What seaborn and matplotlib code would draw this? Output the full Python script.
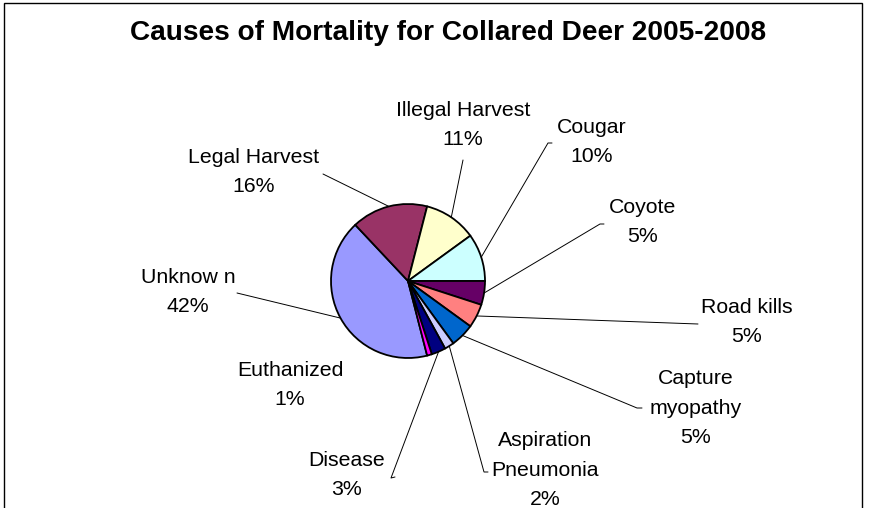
import numpy as np
import matplotlib
matplotlib.use("Agg")
import matplotlib.pyplot as plt
import seaborn as sns
from matplotlib.patches import Rectangle

# ========== data ==========
causes = ["Unknow n", "Legal Harvest", "Illegal Harvest", "Cougar", "Coyote",
          "Road kills", "Capture\nmyopathy", "Aspiration\nPneumonia",
          "Disease", "Euthanized"]
percent = [42, 16, 11, 10, 5, 5, 5, 2, 3, 1]
slice_colors = ["#9999FF", "#993366", "#FFFFCC", "#CCFFFF", "#660066",
                "#FF8080", "#0066CC", "#CCCCFF", "#000080", "#FF00FF"]

# ========== layout (pixels, from top-left) ==========
W, H = 869, 508
pie_center = (408, 281)
pie_radius = 77
label_xy = [(188, 292), (254, 172), (463, 125), (592, 142), (643, 222),
            (747, 322), (696, 408), (545, 470), (347, 475), (290, 385)]
# end of the leader line at the label, plus an optional short tick
anchor_xy = [(237, 293), (323, 174), (463, 160), (548, 143), (600, 224),
             (698, 324), (637, 408), (484, 472), (391, 478), None]
tick_xy = [None, None, None, (552, 143), (604, 224),
           None, (642, 408), (488, 472), (395, 477), None]

sns.set_theme(style="white")
plt.rcParams['font.family'] = ['Liberation Sans', 'DejaVu Sans']

fig = plt.figure(figsize=(W / 100, H / 100), dpi=100)
ax = fig.add_axes([0, 0, 1, 1])

start = 3.6 * sum(percent[:4])
wedges, _ = ax.pie(percent, colors=sns.color_palette(slice_colors),
                   startangle=start, counterclock=False,
                   center=(pie_center[0], H - pie_center[1]), radius=pie_radius,
                   wedgeprops=dict(edgecolor="black", linewidth=1.3))

for w, name, p, lxy, axy, txy in zip(wedges, causes, percent, label_xy, anchor_xy, tick_xy):
    ax.text(lxy[0], H - lxy[1], f"{name}\n{p}%", ha="center", va="center",
            fontsize=15.3, linespacing=1.72, color="black")
    if axy is None:
        continue
    mid = np.deg2rad((w.theta1 + w.theta2) / 2)
    x0 = pie_center[0] + pie_radius * np.cos(mid)
    y0 = H - pie_center[1] + pie_radius * np.sin(mid)
    xs = [x0, axy[0]]
    ys = [y0, H - axy[1]]
    if txy is not None:
        xs.append(txy[0])
        ys.append(H - txy[1])
    ax.plot(xs, ys, color="black", linewidth=0.7)

ax.set_xlim(0, W)
ax.set_ylim(0, H)
ax.set_aspect("equal")
ax.axis("off")

fig.text(448 / W, 1 - 33 / H, "Causes of Mortality for Collared Deer 2005-2008",
         ha="center", va="center", fontsize=20.2, fontweight="bold", color="black")

fig.patches.append(Rectangle((4 / W, -0.05), 858 / W, 1.05 - 2.5 / H,
                             transform=fig.transFigure, fill=False,
                             edgecolor="black", linewidth=1.0))

fig.savefig("out.png", dpi=100)
